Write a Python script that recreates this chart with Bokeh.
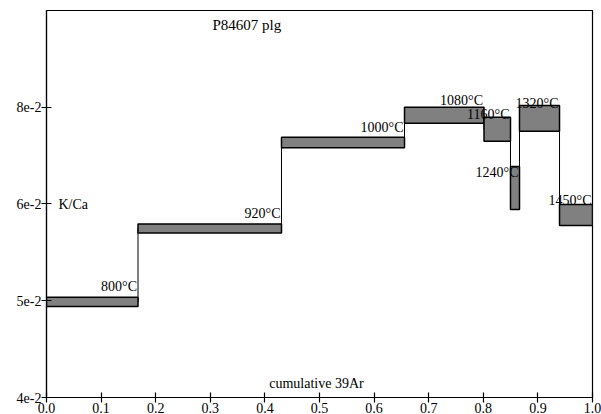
import numpy as np
from bokeh.plotting import figure
from bokeh.models import Range1d, FixedTicker, CustomJSTickFormatter, ColumnDataSource, Label
from bokeh.core.properties import value
from bokeh.embed import file_html
from bokeh.resources import INLINE

# cumulative 39Ar step boundaries
x_left = [0.0, 0.1676, 0.4304, 0.6557, 0.8013, 0.8498, 0.8663, 0.9396]
x_right = [0.1676, 0.4304, 0.6557, 0.8013, 0.8498, 0.8663, 0.9396, 1.0]
# K/Ca box lower / upper bounds
kca_lo = [0.04971, 0.05926, 0.07262, 0.07701, 0.07374, 0.06267, 0.07556, 0.06031]
kca_hi = [0.05082, 0.06055, 0.07448, 0.08001, 0.07812, 0.06946, 0.08034, 0.06342]
steps = ["800°C", "920°C", "1000°C", "1080°C", "1160°C", "1240°C", "1320°C", "1450°C"]

x_ticks = [0.0, 0.1, 0.2, 0.3, 0.4, 0.5, 0.6, 0.7, 0.8, 0.9, 1.0]
y_ticks = [0.04, 0.0504, 0.0635, 0.08]
y_tick_labels = ["4e-2", "5e-2", "6e-2", "8e-2"]

FONT = "Liberation Serif"

p = figure(frame_width=546, frame_height=387, output_backend="svg", toolbar_location=None,
           x_range=Range1d(0, 1), y_range=Range1d(0.04, 0.04 * 2 ** (4 / 3)),
           y_axis_type="log", min_border_left=46, min_border_right=9,
           min_border_top=10, min_border_bottom=17)
p.background_fill_color = "white"
p.border_fill_color = "white"
p.outline_line_color = "black"
p.outline_line_width = 1.2
p.xgrid.visible = False
p.ygrid.visible = False

for ax in (p.xaxis[0], p.yaxis[0]):
    ax.axis_line_color = "black"
    ax.axis_line_width = 1.2
    ax.major_tick_in = 5
    ax.major_tick_out = 5
    ax.major_tick_line_color = "black"
    ax.major_tick_line_width = 1.2
    ax.minor_tick_line_color = None
    ax.major_label_text_font = FONT
    ax.major_label_text_font_size = "14px"
    ax.major_label_text_color = "black"
    ax.major_label_standoff = 0

p.xaxis[0].ticker = FixedTicker(ticks=x_ticks)
p.xaxis[0].formatter = CustomJSTickFormatter(code="return tick.toFixed(1);")
p.yaxis[0].ticker = FixedTicker(ticks=y_ticks)
p.yaxis[0].formatter = CustomJSTickFormatter(
    args=dict(t=y_ticks, l=y_tick_labels),
    code="""
for (let i = 0; i < t.length; i++) {
  if (Math.abs(tick - t[i]) < 1e-6) return l[i];
}
return '';
""")

centers = [float(np.sqrt(a * b)) for a, b in zip(kca_lo, kca_hi)]

# connectors between consecutive steps
seg = ColumnDataSource(dict(
    x0=x_right[:-1], x1=x_right[:-1],
    y0=centers[:-1], y1=centers[1:]))
p.segment(x0="x0", y0="y0", x1="x1", y1="y1", source=seg, line_color="black", line_width=1)

boxes = ColumnDataSource(dict(left=x_left, right=x_right, bottom=kca_lo, top=kca_hi,
                              cy=centers, label=steps))
p.quad(left="left", right="right", bottom="bottom", top="top", source=boxes,
       fill_color="#808080", line_color="black", line_width=1.5)

p.text(x="right", y="cy", text="label", source=boxes, text_align="right",
       text_baseline="alphabetic", x_offset=-1, y_offset=-15,
       text_font=value(FONT), text_font_size="14px", text_color="black")

p.add_layout(Label(x=0.304, y=0.0973, text="P84607 plg", text_font=FONT,
                   text_font_size="15px", text_baseline="alphabetic", text_color="black"))
p.add_layout(Label(x=0.022, y=0.0634, text="K/Ca", text_font=FONT,
                   text_font_size="14px", text_baseline="alphabetic", text_color="black"))
p.add_layout(Label(x=0.408, y=0.04135, text="cumulative 39Ar", text_font=FONT,
                   text_font_size="14px", text_baseline="alphabetic", text_color="black"))

open("out.html", "w").write(file_html(p, INLINE))
